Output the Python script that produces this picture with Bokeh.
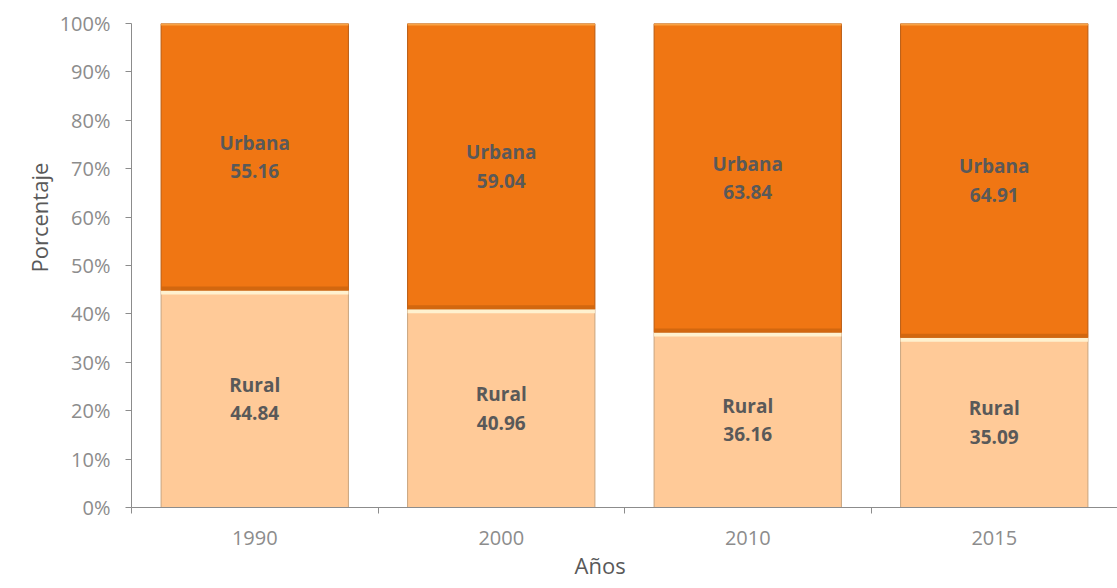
from bokeh.plotting import figure
from bokeh.models import Range1d, FixedTicker, ColumnDataSource, Title
from bokeh.core.properties import value
from bokeh.embed import file_html
from bokeh.resources import INLINE

years = ["1990", "2000", "2010", "2015"]
rural = [44.84, 40.96, 36.16, 35.09]
urbana = [55.16, 59.04, 63.84, 64.91]
y_ticks = [0, 10, 20, 30, 40, 50, 60, 70, 80, 90, 100]

FONT = "Open Sans"
URB = "#F07613"
RUR = "#FFCA98"

# pixel-to-data helper for bevel band thickness (style only)
PX = 100 / 484.0
band = 4 * PX

xc = [i + 0.5 for i in range(len(years))]
bw = 0.76
total = [r + u for r, u in zip(rural, urbana)]
src = ColumnDataSource(dict(
    x=xc,
    left=[x - bw / 2 for x in xc],
    right=[x + bw / 2 for x in xc],
    rural=rural,
    total=total,
    zero=[0] * len(years),
    r_band=[r - band for r in rural],
    u_band=[r + band for r in rural],
    t_band=[t - 0.5 * band for t in total],
    rmid=[r / 2 for r in rural],
    umid=[r + u / 2 for r, u in zip(rural, urbana)],
    rlab=["Rural\n%.2f" % r for r in rural],
    ulab=["Urbana\n%.2f" % u for u in urbana],
))

p = figure(width=1117, height=588, output_backend="svg", toolbar_location=None,
           x_range=Range1d(0, 4), y_range=Range1d(0, 100),
           min_border_left=131, min_border_right=0, min_border_top=23,
           min_border_bottom=81)
p.outline_line_color = None
p.grid.grid_line_color = None
p.background_fill_color = "white"

# bars
p.quad(left="left", right="right", bottom="zero", top="rural", source=src,
       fill_color=RUR, line_color="#C9A47E", line_width=1)
p.quad(left="left", right="right", bottom="rural", top="total", source=src,
       fill_color=URB, line_color="#B85A10", line_width=1)
# bevel-like bands
p.quad(left="left", right="right", bottom="r_band", top="rural", source=src,
       fill_color="#FFF1CF", line_color=None)
p.quad(left="left", right="right", bottom="rural", top="u_band", source=src,
       fill_color="#D2670F", line_color=None)
p.quad(left="left", right="right", bottom="t_band", top="total", source=src,
       fill_color="#F8A245", line_color=None)

for ycol, tcol in (("rmid", "rlab"), ("umid", "ulab")):
    p.text(x="x", y=ycol, text=tcol, source=src, text_align="center",
           text_baseline="middle", text_font=value(FONT), text_font_size="19px",
           text_font_style="bold", text_color="#595959", text_line_height=1.1)

# y axis
p.yaxis.ticker = FixedTicker(ticks=y_ticks)
p.yaxis.major_label_overrides = {t: "%d%%" % t for t in y_ticks}
p.yaxis.major_label_text_font = FONT
p.yaxis.major_label_text_font_size = "20px"
p.yaxis.major_label_text_color = "#8C8C8C"
p.yaxis.major_tick_in = 0
p.yaxis.major_tick_out = 6
p.yaxis.minor_tick_line_color = None
p.yaxis.axis_line_color = "#8C8C8C"
p.yaxis.major_tick_line_color = "#8C8C8C"
p.yaxis.major_label_standoff = 15

# x axis
p.xaxis.ticker = FixedTicker(ticks=xc, minor_ticks=[0, 1, 2, 3, 4])
p.xaxis.major_label_overrides = {x: y for x, y in zip(xc, years)}
p.xaxis.major_tick_out = 0
p.xaxis.major_tick_in = 0
p.xaxis.minor_tick_out = 6
p.xaxis.minor_tick_in = 0
p.xaxis.minor_tick_line_color = "#8C8C8C"
p.xaxis.axis_line_color = "#8C8C8C"
p.xaxis.major_label_text_font = FONT
p.xaxis.major_label_text_font_size = "20px"
p.xaxis.major_label_text_color = "#8C8C8C"
p.xaxis.major_label_standoff = 17

# axis titles
p.add_layout(Title(text="Años", align="left", offset=443, standoff=0,
                   text_font=FONT, text_font_size="22px",
                   text_font_style="normal", text_color="#595959"), "below")
p.add_layout(Title(text="Porcentaje", align="left", offset=235, standoff=6,
                   text_font=FONT, text_font_size="22px",
                   text_font_style="normal", text_color="#595959"), "left")

open("out.html", "w").write(file_html(p, INLINE))
